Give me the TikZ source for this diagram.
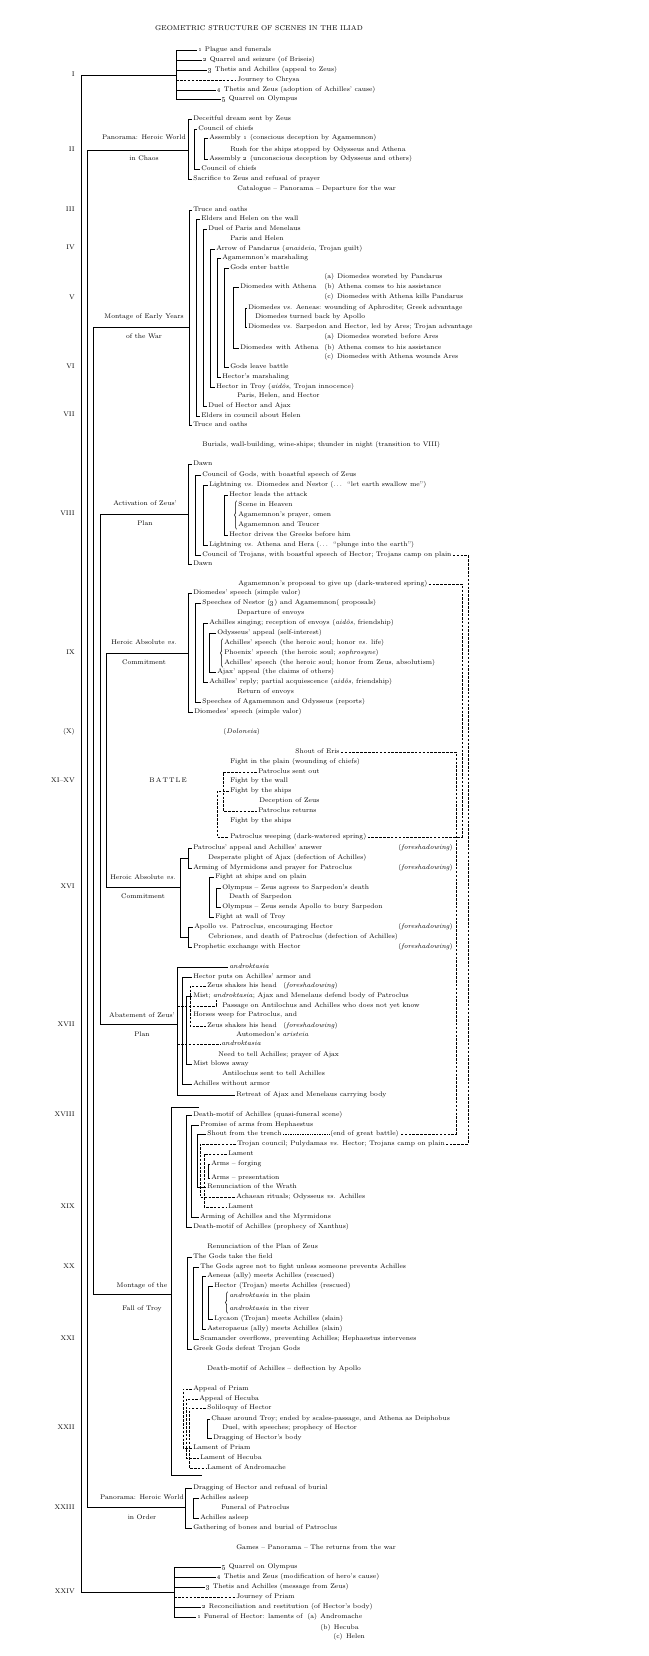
\documentclass[tikz,border=0pt]{standalone}
\usetikzlibrary{decorations.pathreplacing}
\begin{document}
\begin{tikzpicture}[x=1pt,y=-1pt,line width=0.6pt,
every node/.style={font=\fontsize{6.7}{8}\selectfont,inner sep=1pt,text height=4.6pt,text depth=1.35pt},
scn/.style={anchor=west},
book/.style={anchor=east},
dsh/.style={dash pattern=on 2.6pt off 1.3pt},
leader/.style={dash pattern=on 0.4pt off 1.3pt},
brc/.style={decorate,decoration={brace,amplitude=2pt},line width=0.5pt}]
\useasboundingbox (0,0) rectangle (648,1656);
\draw (259,29) node[font=\fontsize{7}{8}\selectfont] (title) {GEOMETRIC STRUCTURE OF SCENES IN THE ILIAD};

\foreach \y/\t [count=\i] in {75/I,150/II,210/III,248/IV,298/V,367/VI,415/VII,514/VIII,653/IX,732/{(X)},781/{XI--XV},887/XVI,1025/XVII,1115/XVIII,1207/XIX,1267/XX,1339/XXI,1428/XXII,1508/XXIII,1592/XXIV}
  \draw (76,\y) node[book] (book\i) {\t};

\draw (144,138) node (lab1) {Panorama: Heroic World};
\draw (144,159) node (lab1b) {in Chaos};
\draw (144,317) node (lab2) {Montage of Early Years};
\draw (144,337) node (lab2b) {of the War};
\draw (145,504) node (lab3) {Activation of Zeus'};
\draw (145,524) node (lab3b) {Plan};
\draw (144,643) node (lab4) {Heroic Absolute \emph{vs.}};
\draw (144,663) node (lab4b) {Commitment};
\draw (168,781) node (lab5) {B\,A\,T\,T\,L\,E};
\draw (143,878) node (lab6) {Heroic Absolute \emph{vs.}};
\draw (143,897) node (lab6b) {Commitment};
\draw (142,1016) node (lab7) {Abatement of Zeus'};
\draw (142,1035) node (lab7b) {Plan};
\draw (142,1286) node (lab8) {Montage of the};
\draw (142,1309) node (lab8b) {Fall of Troy};
\draw (142,1498) node (lab9) {Panorama: Heroic World};
\draw (142,1518) node (lab9b) {in Order};

\coordinate (gI) at (176,75);
\coordinate (gII) at (188,150);
\coordinate (gIII) at (189,327);
\coordinate (gVIII) at (188,514);
\coordinate (gIX) at (188,653);
\coordinate (gXVI) at (180,887);
\coordinate (gXVII) at (177,1024);
\coordinate (gXVIII) at (171,1294);
\coordinate (gXXIII) at (185,1507);
\coordinate (gXXIV) at (174,1592);
\draw (gI) -| (81,0 |- gXXIV) -- (gXXIV);
\draw (gII) -| (87,0 |- gXXIII) -- (gXXIII);
\draw (gIII) -| (93.5,0 |- gXVIII) -- (gXVIII);
\draw (gVIII) -| (100,0 |- gXVII) -- (gXVII);
\draw (gIX) -| (106,0 |- gXVI) -- (gXVI);

\draw (197,50) node[scn] (i1) {\oldstylenums{1} Plague and funerals};
\draw (202,60) node[scn] (i2) {\oldstylenums{2} Quarrel and seizure (of Briseis)};
\draw (207,70) node[scn] (i3) {\oldstylenums{3} Thetis and Achilles (appeal to Zeus)};
\draw (236,80) node[scn] (i4) {Journey to Chrysa};
\draw (216,90) node[scn] (i5) {\oldstylenums{4} Thetis and Zeus (adoption of Achilles' cause)};
\draw (221,99) node[scn] (i6) {\oldstylenums{5} Quarrel on Olympus};
\draw (i1.west) -| (176,0 |- i6.west) -- (i6.west);
\foreach \n in {i2,i3,i5} {\draw (176,0 |- \n.west) -- (\n.west);}
\draw[dsh] (176,0 |- i4.west) -- (i4.west);

\draw (192,119) node[scn] (d1) {Deceitful dream sent by Zeus};
\draw (197,129) node[scn] (d2) {Council of chiefs};
\draw (208,138) node[scn] (d3) {Assembly \oldstylenums{1} (conscious deception by Agamemnon)};
\draw (229,150) node[scn] (d4) {Rush for the ships stopped by Odysseus and Athena};
\draw (208,159) node[scn] (d5) {Assembly \oldstylenums{2} (unconscious deception by Odysseus and others)};
\draw (200,169) node[scn] (d6) {Council of chiefs};
\draw (192,179) node[scn] (d7) {Sacrifice to Zeus and refusal of prayer};
\draw (236,189) node[scn] (d8) {Catalogue -- Panorama -- Departure for the war};
\draw (d1.west) -| (188,0 |- d7.west) -- (d7.west);
\draw (d2.west) -| (194,0 |- d6.west) -- (d6.west);
\draw (d3.west) -| (204,0 |- d5.west) -- (d5.west);

\draw (192,210) node[scn] (e1) {Truce and oaths};
\draw (200,219) node[scn] (e2) {Elders and Helen on the wall};
\draw (207,229) node[scn] (e3) {Duel of Paris and Menelaus};
\draw (229,239) node[scn] (e4) {Paris and Helen};
\draw (215,249) node[scn] (e5) {Arrow of Pandarus (\emph{anaideia}, Trojan guilt)};
\draw (221,258) node[scn] (e6) {Agamemnon's marshaling};
\draw (229,268) node[scn] (e7) {Gods enter battle};
\draw (239,287) node[scn] (e8) {Diomedes with Athena};
\draw (247,308) node[scn] (e9) {Diomedes \emph{vs.} Aeneas: wounding of Aphrodite; Greek advantage};
\draw (254,317) node[scn] (e10) {Diomedes turned back by Apollo};
\draw (247,327) node[scn] (e11) {Diomedes \emph{vs.} Sarpedon and Hector, led by Ares; Trojan advantage};
\draw (239,348) node[scn] (e12) {Diomedes\ \,with\ \,Athena};
\draw (229,367) node[scn] (e13) {Gods leave battle};
\draw (221,377) node[scn] (e14) {Hector's marshaling};
\draw (215,387) node[scn] (e15) {Hector in Troy (\emph{aid\^os}, Trojan innocence)};
\draw (236,396) node[scn] (e16) {Paris, Helen, and Hector};
\draw (207,406) node[scn] (e17) {Duel of Hector and Ajax};
\draw (200,416) node[scn] (e18) {Elders in council about Helen};
\draw (192,425) node[scn] (e19) {Truce and oaths};
\draw (323,277) node[scn] (ea1) {(a)\enspace Diomedes worsted by Pandarus};
\draw (323,287) node[scn] (ea2) {(b)\enspace Athena comes to his assistance};
\draw (323,297) node[scn] (ea3) {(c)\enspace Diomedes with Athena kills Pandarus};
\draw (323,337) node[scn] (eb1) {(a)\enspace Diomedes worsted before Ares};
\draw (323,348) node[scn] (eb2) {(b)\enspace Athena comes to his assistance};
\draw (323,357) node[scn] (eb3) {(c)\enspace Diomedes with Athena wounds Ares};
\draw (e1.west) -| (189,0 |- e19.west) -- (e19.west);
\draw (e2.west) -| (196,0 |- e18.west) -- (e18.west);
\draw (e3.west) -| (203,0 |- e17.west) -- (e17.west);
\draw (e5.west) -| (210,0 |- e15.west) -- (e15.west);
\draw (e6.west) -| (217,0 |- e14.west) -- (e14.west);
\draw (e7.west) -| (224,0 |- e13.west) -- (e13.west);
\draw (e8.west) -| (233,0 |- e12.west) -- (e12.west);
\draw (e9.west) -| (245,0 |- e11.west) -- (e11.west);

\draw (201,445) node[scn] (bur) {Burials, wall-building, wine-ships; thunder in night (transition to VIII)};

\draw (192,464) node[scn] (v1) {Dawn};
\draw (201,475) node[scn] (v2) {Council of Gods, with boastful speech of Zeus};
\draw (208,485) node[scn] (v3) {Lightning \emph{vs.} Diomedes and Nestor};
\draw (329,485) node[scn] (v3b) {(.\,.\,.\ \ ``let earth swallow me'')};
\draw (228,495) node[scn] (v4) {Hector leads the attack};
\draw (237,505) node[scn] (v5) {Scene in Heaven};
\draw (237,515) node[scn] (v6) {Agamemnon's prayer, omen};
\draw (237,525) node[scn] (v7) {Agamemnon and Teucer};
\draw (228,535) node[scn] (v8) {Hector drives the Greeks before him};
\draw (208,545) node[scn] (v9) {Lightning \emph{vs.} Athena and Hera};
\draw (315,545) node[scn] (v9b) {(.\,.\,.\ \ ``plunge into the earth'')};
\draw (201,555) node[scn] (v10) {Council of Trojans, with boastful speech of Hector; Trojans camp on plain};
\draw (192,564) node[scn] (v11) {Dawn};
\draw (v1.west) -| (188,0 |- v11.west) -- (v11.west);
\draw (v2.west) -| (195,0 |- v10.west) -- (v10.west);
\draw (v3.west) -| (203,0 |- v9.west) -- (v9.west);
\draw (v4.west) -| (224,0 |- v8.west) -- (v8.west);
\draw[brc] ([xshift=-0.5pt]v7.south west) -- ([xshift=-0.5pt]v5.north west);

\draw (237,584) node[scn] (n0) {Agamemnon's proposal to give up (dark-watered spring)};
\draw (192,593) node[scn] (n1) {Diomedes' speech (simple valor)};
\draw (201,603) node[scn] (n2) {Speeches of Nestor (\oldstylenums{3}) and Agamemnon( proposals)};
\draw (236,613) node[scn] (n3) {Departure of envoys};
\draw (208,623) node[scn] (n4) {Achilles singing; reception of envoys (\emph{aid\^os}, friendship)};
\draw (216,633) node[scn] (n5) {Odysseus' appeal (self-interest)};
\draw (223,643) node[scn] (n6) {Achilles' speech\enspace(the heroic soul; honor \emph{vs.} life)};
\draw (223,653) node[scn] (n7) {Phoenix' speech\enspace(the heroic soul; \emph{sophrosyne})};
\draw (223,663) node[scn] (n8) {Achilles' speech\enspace(the heroic soul; honor from Zeus, absolutism)};
\draw (216,672) node[scn] (n9) {Ajax' appeal (the claims of others)};
\draw (208,682) node[scn] (n10) {Achilles' reply; partial acquiescence (\emph{aid\^os}, friendship)};
\draw (236,692) node[scn] (n11) {Return of envoys};
\draw (201,702) node[scn] (n12) {Speeches of Agamemnon and Odysseus (reports)};
\draw (193,712) node[scn] (n13) {Diomedes' speech (simple valor)};
\draw (n1.west) -| (188,0 |- n13.west) -- (n13.west);
\draw (n2.west) -| (195,0 |- n12.west) -- (n12.west);
\draw (n4.west) -| (203,0 |- n10.west) -- (n10.west);
\draw (n5.west) -| (209,0 |- n9.west) -- (n9.west);
\draw[brc] ([xshift=-0.5pt]n8.south west) -- ([xshift=-0.5pt]n6.north west);

\draw (222,732) node[scn] (dol) {(\emph{Doloneia})};

\draw (294,752) node[scn] (w1) {Shout of Eris};
\draw (229,762) node[scn] (w2) {Fight in the plain (wounding of chiefs)};
\draw (257,772) node[scn] (w3) {Patroclus sent out};
\draw (229,781) node[scn] (w4) {Fight by the wall};
\draw (229,791) node[scn] (w5) {Fight by the ships};
\draw (258,801) node[scn] (w6) {Deception of Zeus};
\draw (257,811) node[scn] (w7) {Patroclus returns};
\draw (229,821) node[scn] (w8) {Fight by the ships};
\draw (229,837) node[scn] (w9) {Patroclus weeping (dark-watered spring)};
\draw[dsh] (w3.west) -| (223,0 |- w7.west) -- (w7.west);
\draw[dsh] (w5.west) -| (217,0 |- w9.west) -- (w9.west);

\draw (192,848) node[scn] (p1) {Patroclus' appeal and Achilles' answer};
\draw (207,858) node[scn] (p2) {Desperate plight of Ajax (defection of Achilles)};
\draw (192,868) node[scn] (p3) {Arming of Myrmidons and prayer for Patroclus};
\draw (214,877) node[scn] (p4) {Fight at ships and on plain};
\draw (221,888) node[scn] (p5) {Olympus -- Zeus agrees to Sarpedon's death};
\draw (228,897) node[scn] (p6) {Death of Sarpedon};
\draw (221,907) node[scn] (p7) {Olympus -- Zeus sends Apollo to bury Sarpedon};
\draw (214,917) node[scn] (p8) {Fight at wall of Troy};
\draw (193,927) node[scn] (p9) {Apollo \emph{vs.} Patroclus, encouraging Hector};
\draw (207,937) node[scn] (p10) {Cebriones, and death of Patroclus (defection of Achilles)};
\draw (192,947) node[scn] (p11) {Prophetic exchange with Hector};
\foreach \y [count=\i] in {848,868,927,947}
  \draw (397,\y) node[scn] (f\i) {(\emph{foreshadowing})};
\draw (p1.west) -| (188,0 |- p3.west) -- (p3.west);
\draw (p9.west) -| (188,0 |- p11.west) -- (p11.west);
\draw (p4.west) -| (209,0 |- p8.west) -- (p8.west);
\draw (p5.west) -| (216,0 |- p7.west) -- (p7.west);
\coordinate (pa) at (188,858);
\coordinate (pb) at (188,937);
\draw (pa) -| (180,0 |- pb) -- (pb);

\draw (228,967) node[scn] (k1) {\emph{androktasia}};
\draw (192,977) node[scn] (k2) {Hector puts on Achilles' armor and};
\draw (206,986) node[scn] (k3) {Zeus shakes his head};
\draw (282,986) node[scn] (k3f) {(\emph{foreshadowing})};
\draw (192,996) node[scn] (k4) {Mist; \emph{androktasia}; Ajax and Menelaus defend body of Patroclus};
\draw (221,1006) node[scn] (k5) {Passage on Antilochus and Achilles who does not yet know};
\draw (192,1015) node[scn] (k6) {Horses weep for Patroclus, and};
\draw (206,1026) node[scn] (k7) {Zeus shakes his head};
\draw (282,1026) node[scn] (k7f) {(\emph{foreshadowing})};
\draw (235,1035) node[scn] (k8) {Automedon's \emph{aristeia}};
\draw (220,1044) node[scn] (k9) {\emph{androktasia}};
\draw (217,1055) node[scn] (k10) {Need to tell Achilles; prayer of Ajax};
\draw (192,1064) node[scn] (k11) {Mist blows away};
\draw (221,1074) node[scn] (k12) {Antilochus sent to tell Achilles};
\draw (192,1084) node[scn] (k13) {Achilles without armor};
\draw (235,1095) node[scn] (k14) {Retreat of Ajax and Menelaus carrying body};
\draw (k1.west) -| (177,0 |- k14.west) -- (k14.west);
\draw (k2.west) -| (182,0 |- k13.west) -- (k13.west);
\draw (k4.west) -| (186,0 |- k11.west) -- (k11.west);
\draw[dsh] (k3.west) -| (190,0 |- k7.west) -- (k7.west);
\coordinate (k5c) at (216,1000);
\draw[dsh] (177,0 |- k5.west) -| (k5c);
\draw[dsh] (177,0 |- k9.west) -- (k9.west);

\coordinate (r0) at (199,1107);
\coordinate (rz) at (202,1475);
\draw (r0) -| (171,0 |- rz) -- (rz);
\draw (192,1115) node[scn] (r1) {Death-motif of Achilles (quasi-funeral scene)};
\draw (199,1125) node[scn] (r2) {Promise of arms from Hephaestus};
\draw (206,1134) node[scn] (r3) {Shout from the trench};
\draw (329,1134) node[scn] (r3e) {(end of great battle)};
\draw (236,1144) node[scn] (r4) {Trojan council; Pulydamas \emph{vs.} Hector; Trojans camp on plain};
\draw (227,1154) node[scn] (r5) {Lament};
\draw (210,1164) node[scn] (r6) {Arms -- forging};
\draw (210,1178) node[scn] (r7) {Arms -- presentation};
\draw (206,1187) node[scn] (r8) {Renunciation of the Wrath};
\draw (235,1197) node[scn] (r9) {Achaean rituals; Odysseus \emph{vs.} Achilles};
\draw (227,1207) node[scn] (r10) {Lament};
\draw (199,1217) node[scn] (r11) {Arming of Achilles and the Myrmidons};
\draw (192,1227) node[scn] (r12) {Death-motif of Achilles (prophecy of Xanthus)};
\draw (206,1247) node[scn] (r13) {Renunciation of the Plan of Zeus};
\draw[leader] (r3.east) -- (r3e.west);
\draw (r1.west) -| (186,0 |- r12.west) -- (r12.west);
\draw (r2.west) -| (191,0 |- r11.west) -- (r11.west);
\draw (r3.west) -| (197,0 |- r8.west) -- (r8.west);
\draw[dsh] (r4.west) -| (200,0 |- r9.west) -- (r9.west);
\draw[dsh] (r5.west) -| (204,0 |- r10.west) -- (r10.west);
\draw (r6.west) -| (208,0 |- r7.west) -- (r7.west);

\draw (192,1257) node[scn] (s1) {The Gods take the field};
\draw (199,1267) node[scn] (s2) {The Gods agree not to fight unless someone prevents Achilles};
\draw (206,1276) node[scn] (s3) {Aeneas (ally) meets Achilles (rescued)};
\draw (213,1286) node[scn] (s4) {Hector (Trojan) meets Achilles (rescued)};
\draw (228,1296) node[scn] (s5) {\emph{androktasia} in the plain};
\draw (228,1309) node[scn] (s6) {\emph{androktasia} in the river};
\draw (213,1319) node[scn] (s7) {Lycaon (Trojan) meets Achilles (slain)};
\draw (206,1329) node[scn] (s8) {Asteropaeus (ally) meets Achilles (slain)};
\draw (199,1339) node[scn] (s9) {Scamander overflows, preventing Achilles; Hephaestus intervenes};
\draw (192,1349) node[scn] (s10) {Greek Gods defeat Trojan Gods};
\draw (s1.west) -| (187,0 |- s10.west) -- (s10.west);
\draw (s2.west) -| (193,0 |- s9.west) -- (s9.west);
\draw (s3.west) -| (202,0 |- s8.west) -- (s8.west);
\draw (s4.west) -| (208,0 |- s7.west) -- (s7.west);
\draw[brc] ([xshift=-0.5pt]s6.south west) -- ([xshift=-0.5pt]s5.north west);

\draw (206,1369) node[scn] (r14) {Death-motif of Achilles -- deflection by Apollo};

\draw (192,1389) node[scn] (q1) {Appeal of Priam};
\draw (198,1399) node[scn] (q2) {Appeal of Hecuba};
\draw (206,1408) node[scn] (q3) {Soliloquy of Hector};
\draw (210,1419) node[scn] (q4) {Chase around Troy; ended by scales-passage, and Athena as Deiphobus};
\draw (221,1428) node[scn] (q5) {Duel, with speeches; prophecy of Hector};
\draw (212,1438) node[scn] (q6) {Dragging of Hector's body};
\draw (192,1448) node[scn] (q7) {Lament of Priam};
\draw (199,1458) node[scn] (q8) {Lament of Hecuba};
\draw (206,1468) node[scn] (q9) {Lament of Andromache};
\draw[dsh] (q1.west) -| (183,0 |- q7.west) -- (q7.west);
\draw[dsh] (q2.west) -| (186,0 |- q8.west) -- (q8.west);
\draw[dsh] (q3.west) -| (189,0 |- q9.west) -- (q9.west);
\draw (q4.west) -| (207,0 |- q6.west) -- (q6.west);

\draw (192,1488) node[scn] (t1) {Dragging of Hector and refusal of burial};
\draw (199,1498) node[scn] (t2) {Achilles asleep};
\draw (220,1508) node[scn] (t3) {Funeral of Patroclus};
\draw (199,1518) node[scn] (t4) {Achilles asleep};
\draw (192,1528) node[scn] (t5) {Gathering of bones and burial of Patroclus};
\draw (t1.west) -| (185,0 |- t5.west) -- (t5.west);
\draw (t2.west) -| (193,0 |- t4.west) -- (t4.west);

\draw (235,1548) node[scn] (gm) {Games -- Panorama -- The returns from the war};

\draw (221,1567) node[scn] (z1) {\oldstylenums{5} Quarrel on Olympus};
\draw (216,1577) node[scn] (z2) {\oldstylenums{4} Thetis and Zeus (modification of hero's cause)};
\draw (205,1587) node[scn] (z3) {\oldstylenums{3} Thetis and Achilles (message from Zeus)};
\draw (235,1597) node[scn] (z4) {Journey of Priam};
\draw (201,1607) node[scn] (z5) {\oldstylenums{2} Reconciliation and restitution (of Hector's body)};
\draw (196,1617) node[scn] (z6) {\oldstylenums{1} Funeral of Hector: laments of};
\draw (306,1617) node[scn] (za) {(a)\enspace Andromache};
\draw (319,1628) node[scn] (zb) {(b)\enspace Hecuba};
\draw (332,1637) node[scn] (zc) {(c)\enspace Helen};
\draw (z1.west) -| (174,0 |- z6.west) -- (z6.west);
\foreach \n in {z2,z3,z5} {\draw (174,0 |- \n.west) -- (\n.west);}
\draw[dsh] (174,0 |- z4.west) -- (z4.west);

\draw[dsh] (v10.east) -| (468,0 |- r4.east) -- (r4.east);
\draw[dsh] (n0.east) -| (462,0 |- w9.east) -- (w9.east);
\draw[dsh] (w1.east) -| (456,0 |- r3e.east) -- (r3e.east);
\end{tikzpicture}
\end{document}
